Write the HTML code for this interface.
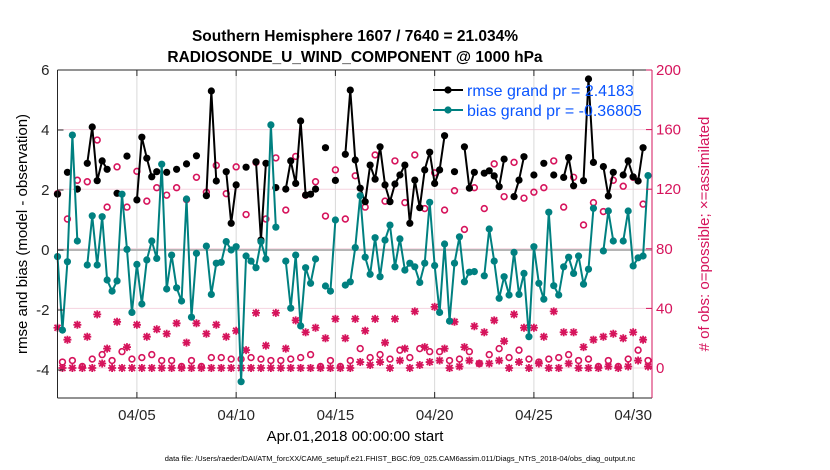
<!DOCTYPE html>
<html><head><meta charset="utf-8"><style>
html,body{margin:0;padding:0;background:#fff;}
svg{display:block;font-family:"Liberation Sans",sans-serif;}
</style></head><body>
<svg id="chart" width="830" height="470" viewBox="0 0 830 470" xmlns="http://www.w3.org/2000/svg">
<text x="355" y="41" text-anchor="middle" font-size="15.5" font-weight="bold">Southern Hemisphere 1607 / 7640 = 21.034%</text>
<text x="355" y="62" text-anchor="middle" font-size="15.5" font-weight="bold">RADIOSONDE_U_WIND_COMPONENT @ 1000 hPa</text>
<g id="grid"></g>
<g id="marks"></g>
<g id="axes"></g>
<text transform="translate(27,234) rotate(-90)" text-anchor="middle" font-size="15">rmse and bias (model - observation)</text>
<text transform="translate(709,234) rotate(-90)" text-anchor="middle" font-size="15" fill="#d6145c"># of obs: o=possible; ×=assimilated</text>
<text x="355" y="441" text-anchor="middle" font-size="15">Apr.01,2018 00:00:00 start</text>
<text x="400" y="461" text-anchor="middle" font-size="7.5">data file: /Users/raeder/DAI/ATM_forcXX/CAM6_setup/f.e21.FHIST_BGC.f09_025.CAM6assim.011/Diags_NTrS_2018-04/obs_diag_output.nc</text>
<g>
<line x1="433" y1="90" x2="463" y2="90" stroke="#000" stroke-width="2"/>
<circle cx="448" cy="90" r="3.6" fill="#000"/>
<text x="467" y="96" font-size="16" fill="#0a55ff">rmse grand pr = 2.4183</text>
<line x1="433" y1="110" x2="463" y2="110" stroke="#008080" stroke-width="2"/>
<circle cx="448" cy="110" r="3.6" fill="#008080"/>
<text x="467" y="116" font-size="16" fill="#0a55ff">bias grand pr = -0.36805</text>
</g>
</svg>
<script>
const N = null;
const rmse = [1.86,N,2.59,N,2.03,N,2.89,4.10,2.31,2.97,2.69,N,1.89,N,3.13,N,1.67,3.76,3.06,2.44,
2.61,N,2.59,N,2.69,N,2.87,N,3.14,N,1.81,5.30,2.30,N,2.61,0.89,2.17,N,2.76,N,
2.94,0.33,2.89,N,2.08,N,2.03,2.97,2.22,4.30,1.83,1.86,2.03,N,3.41,N,2.32,N,3.19,5.33,
3.00,2.06,1.61,2.83,2.36,3.44,2.17,1.61,2.20,2.50,2.83,0.89,2.33,1.41,2.67,3.26,2.22,2.67,3.81,N,
2.61,N,3.44,2.06,2.59,N,2.56,2.64,2.47,2.11,3.03,N,1.78,2.33,3.11,N,2.50,N,2.89,N,
2.50,N,2.42,3.08,2.14,N,2.31,5.70,2.92,N,2.78,1.80,2.59,N,2.50,2.97,2.44,2.30,3.41,N];
const bias = [-0.22,-2.67,-0.39,3.83,0.30,N,-0.50,1.14,-0.50,1.11,-1.00,-1.37,-1.03,1.86,0.02,-2.08,-0.48,-1.80,-0.33,0.30,
-0.28,2.86,-1.30,-0.17,-1.26,-1.70,1.70,-2.24,-0.11,N,0.13,-1.48,-0.44,-0.41,0.28,0.00,0.11,-4.39,-0.20,-0.37,
-0.59,0.28,-0.30,4.17,0.76,N,-0.37,-1.94,-0.17,-2.53,-0.59,-1.11,-0.30,N,-1.20,-1.37,1.00,N,-1.17,-1.06,
0.08,1.81,-0.24,-0.81,0.41,-0.89,0.33,0.83,-0.56,0.37,-0.67,-0.44,-0.56,-1.08,-0.44,1.59,-0.52,-2.08,0.20,-2.37,
-0.44,0.44,-1.06,-0.74,-0.72,N,-0.86,0.70,-0.37,-1.61,-0.89,-1.50,-0.08,-1.48,-0.78,-2.89,0.11,-1.11,-1.64,1.26,
-1.19,-1.50,-0.56,-0.24,-0.78,-0.20,-1.14,-0.64,1.39,N,-0.03,1.30,0.30,N,0.30,1.30,-0.53,-0.26,-0.20,2.48];
const possible = [117,4,100,5,126,1,125,6,153,9,108,5,135,11,108,6,132,7,112,9,
121,5,116,5,121,1,113,5,128,1,118,7,136,7,117,6,135,6,103,7,
138,6,100,5,141,5,106,6,142,7,116,9,125,1,102,5,133,1,100,5,
129,13,108,7,143,9,112,6,139,12,111,7,143,13,107,11,131,11,106,5,
119,6,93,11,121,3,107,9,137,13,115,7,138,12,114,6,118,4,121,6,
139,7,108,9,128,5,96,6,111,1,105,5,126,1,122,6,128,12,110,5];
const assimilated = [27,0,19,0,29,0,21,0,36,3,13,0,31,0,14,0,29,0,21,0,
26,0,23,0,30,0,17,0,30,0,23,0,29,0,21,0,25,0,12,0,
37,0,15,0,37,0,13,0,32,0,24,0,27,0,20,0,33,0,20,0,
33,4,25,2,33,4,17,0,33,5,13,0,38,2,14,4,41,5,13,0,
31,1,14,5,28,3,24,3,32,5,18,0,36,4,27,0,27,3,21,0,
38,0,24,3,24,0,14,0,19,0,21,1,23,0,20,1,24,5,19,1];
const leftTicks = [-4,-2,0,2,4,6];
const rightTicks = [0,40,80,120,160,200];
const dateTicks = [5,10,15,20,25,30];
const dateLabels = ["04/05","04/10","04/15","04/20","04/25","04/30"];

const NS = "http://www.w3.org/2000/svg";
const L = 57.5, R = 652, T = 70, B = 398;
const crim = "#d6145c", teal = "#008080";
function xDay(d){ return L + (d - 1) * 19.85; }
function xIdx(i){ return xDay(1 + i * 0.25); }
function yL(v){ return 250 - 30 * v; }
function yR(c){ return 368 - 1.49 * c; }
function mk(tag, attrs, parent){
  const e = document.createElementNS(NS, tag);
  for (const k in attrs) e.setAttribute(k, attrs[k]);
  parent.appendChild(e); return e;
}
const grid = document.getElementById('grid');
const marks = document.getElementById('marks');
const axes = document.getElementById('axes');

rightTicks.forEach(c => {
  const g = mk('line', {x1:L, x2:R, y1:yR(c), y2:yR(c), stroke:'#f5d3df', 'stroke-width':1}, grid);
  
  
});
dateTicks.forEach(d => {
  const g = mk('line', {x1:xDay(d), x2:xDay(d), y1:T, y2:B, stroke:'#d9d9d9', 'stroke-width':1}, grid);
  
  
});
const zl = mk('line', {x1:L, x2:R, y1:yL(0), y2:yL(0), stroke:'#b5b5b5', 'stroke-width':2}, grid);



function series(vals, xf, yf, color, name){
  let segs = [], cur = [];
  vals.forEach((v, i) => {
    if (v === null) { if (cur.length) segs.push(cur); cur = []; }
    else cur.push([xf(i), yf(v)]);
  });
  if (cur.length) segs.push(cur);
  segs.forEach(s => {
    if (s.length > 1) {
      const p = mk('polyline', {points:s.map(q => q.join(',')).join(' '), fill:'none', stroke:color, 'stroke-width':2, 'stroke-linejoin':'round'}, marks);
      
      
    }
  });
  vals.forEach((v, i) => {
    if (v === null) return;
    const c = mk('circle', {cx:xf(i), cy:yf(v), r:3.6, fill:color}, marks);
    
    
  });
}

possible.forEach((c, i) => {
  const e = mk('circle', {cx:xIdx(i), cy:yR(c), r:2.9, fill:'none', stroke:crim, 'stroke-width':1.6}, marks);
  
  
});
assimilated.forEach((c, i) => {
  const x = xIdx(i), y = yR(c), s = 4;
  const d = `M${x-s},${y}H${x+s}M${x},${y-s}V${y+s}M${x-s*0.75},${y-s*0.75}L${x+s*0.75},${y+s*0.75}M${x-s*0.75},${y+s*0.75}L${x+s*0.75},${y-s*0.75}`;
  const e = mk('path', {d:d, stroke:crim, 'stroke-width':1.8, fill:'none'}, marks);
  
  
});
series(rmse, xIdx, yL, '#000', 'rmse');
series(bias, xIdx, yL, teal, 'bias');

mk('line', {x1:L, x2:R, y1:T, y2:T, stroke:'#262626', 'stroke-width':1}, axes);
mk('line', {x1:L, x2:R, y1:B, y2:B, stroke:'#262626', 'stroke-width':1}, axes);
mk('line', {x1:L, x2:L, y1:T, y2:B, stroke:'#262626', 'stroke-width':1}, axes);
mk('line', {x1:R, x2:R, y1:T, y2:B, stroke:crim, 'stroke-width':1}, axes);
leftTicks.forEach(v => {
  mk('line', {x1:L, x2:L+6, y1:yL(v), y2:yL(v), stroke:'#262626'}, axes);
  const t = mk('text', {x:L-8, y:yL(v)+5, 'text-anchor':'end', 'font-size':15, fill:'#262626'}, axes);
  t.textContent = v;
  
  
});
rightTicks.forEach(c => {
  mk('line', {x1:R-6, x2:R, y1:yR(c), y2:yR(c), stroke:crim}, axes);
  const t = mk('text', {x:R+4, y:yR(c)+5, 'font-size':15, fill:crim}, axes);
  t.textContent = c;
  
  
});
dateTicks.forEach((d, k) => {
  mk('line', {x1:xDay(d), x2:xDay(d), y1:B, y2:B-6, stroke:'#262626'}, axes);
  mk('line', {x1:xDay(d), x2:xDay(d), y1:T, y2:T+6, stroke:'#262626'}, axes);
  const t = mk('text', {x:xDay(d), y:B+22, 'text-anchor':'middle', 'font-size':15, fill:'#262626'}, axes);
  t.textContent = dateLabels[k];
  
  
});
</script>
</body></html>
